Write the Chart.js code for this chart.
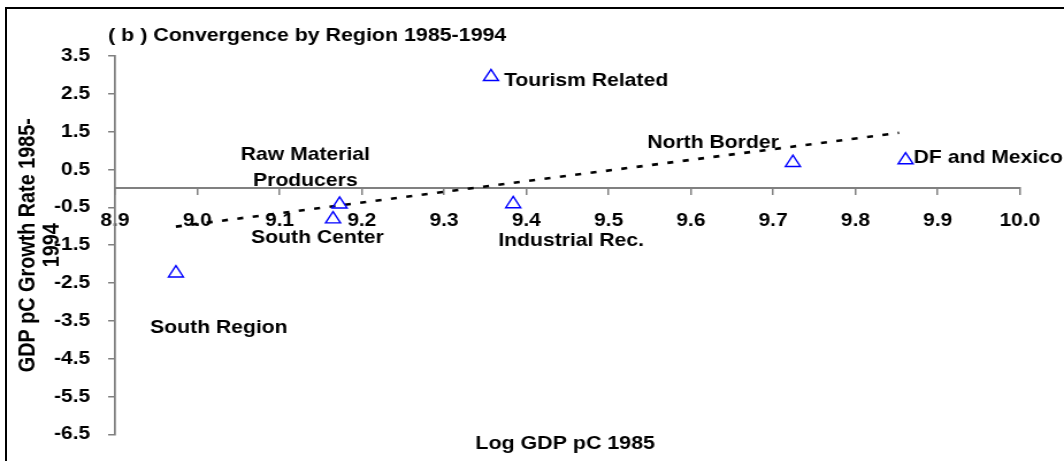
<!DOCTYPE html>
<html lang="en">
<head>
  <meta charset="UTF-8">
  <title>Convergence by Region 1985-1994</title>
  <script src="https://cdn.jsdelivr.net/npm/chart.js"></script>
  <style>
    body {
      margin: 0;
      background: #fff;
      overflow: hidden;
    }
    #wrap {
      position: relative;
      width: 1064px;
      height: 461px;
      overflow: hidden;
      background: #fff;
    }
    .frame {
      position: absolute;
      left: 5px;
      top: 7px;
      width: 1200px;
      height: 600px;
      border: 2px solid #000;
      pointer-events: none;
    }
  </style>
</head>
<body>
  <div id="wrap">
    <!-- canvas is drawn narrower and stretched, like the source picture -->
    <canvas id="chart" width="925" height="461" style="display:block;width:1064px;height:461px"></canvas>
    <div class="frame"></div>
  </div>

  <script>
    const regions = ['South Region', 'South Center', 'Raw Material Producers', 'Industrial Rec.',
                     'Tourism Related', 'North Border', 'DF and Mexico'];
    const regionLines = [['South Region'], ['South Center'], ['Raw Material', 'Producers'], ['Industrial Rec.'],
                         ['Tourism Related'], ['North Border'], ['DF and Mexico']];
    const logGdp85 = [8.974, 9.165, 9.173, 9.384, 9.357, 9.724, 9.861];
    const growth8594 = [-2.24, -0.81, -0.42, -0.41, 2.95, 0.68, 0.75];

    // dashed trend line, end points
    const trendX = [8.974, 9.853];
    const trendY = [-1.01, 1.47];

    const xTickValues = [8.9, 9.0, 9.1, 9.2, 9.3, 9.4, 9.5, 9.6, 9.7, 9.8, 9.9, 10.0];
    const yTickValues = [3.5, 2.5, 1.5, 0.5, -0.5, -1.5, -2.5, -3.5, -4.5, -5.5, -6.5];

    const chartTitle = '( b ) Convergence by Region 1985-1994';
    const xTitle = 'Log GDP pC 1985';
    const yTitle = ['GDP pC Growth Rate 1985-', '1994'];

    const FONT = '"Liberation Sans", Arial, sans-serif';

    // where each region name sits relative to its marker (canvas px)
    const labelPlace = {
      'South Region':           { dx: 37.4,  dy: 54.3,  align: 'center' },
      'South Center':           { dx: -13.5, dy: 18.5,  align: 'center' },
      'Raw Material Producers': { dx: -29.8, dy: -49.5, align: 'center' },
      'Industrial Rec.':        { dx: 50.4,  dy: 36.7,  align: 'center' },
      'Tourism Related':        { dx: 11.3,  dy: 4.2,   align: 'left' },
      'North Border':           { dx: -12.2, dy: -19.3, align: 'right' },
      'DF and Mexico':          { dx: 7,     dy: -2,    align: 'left' }
    };

    const annotate = {
      id: 'annotate',
      afterDatasetsDraw(chart) {
        const { ctx, chartArea, scales: { x, y } } = chart;
        ctx.save();
        ctx.fillStyle = '#000';
        ctx.textBaseline = 'middle';

        ctx.font = 'bold 18.4px ' + FONT;
        regions.forEach((name, i) => {
          const p = labelPlace[name];
          const px = x.getPixelForValue(logGdp85[i]) + p.dx;
          const py = y.getPixelForValue(growth8594[i]) + p.dy;
          ctx.textAlign = p.align;
          regionLines[i].forEach((line, k) => ctx.fillText(line, px, py + k * 26.5));
        });

        ctx.font = 'bold 18.6px ' + FONT;
        ctx.textAlign = 'left';
        ctx.fillText(chartTitle, chartArea.left - 6, 35.5);

        ctx.textAlign = 'center';
        ctx.fillText(xTitle, (chartArea.left + chartArea.right) / 2 - 2, 444);
        ctx.restore();
      }
    };

    const tickFont = { family: FONT, size: 18.2, weight: 'bold' };

    new Chart(document.getElementById('chart'), {
      type: 'scatter',
      data: {
        datasets: [
          {
            label: 'Regions',
            data: logGdp85.map((v, i) => ({ x: v, y: growth8594[i] })),
            pointStyle: 'triangle',
            radius: 7.5,
            borderColor: '#0000ff',
            backgroundColor: 'rgba(255,255,255,0)',
            borderWidth: 1.4
          },
          {
            label: 'Trend',
            type: 'line',
            data: trendX.map((v, i) => ({ x: v, y: trendY[i] })),
            borderColor: '#000',
            borderWidth: 2.6,
            borderDash: [5.2, 8.3],
            pointRadius: 0,
            fill: false
          }
        ]
      },
      options: {
        responsive: false,
        devicePixelRatio: 1,
        animation: false,
        layout: { padding: { top: 56, right: 38.3, bottom: 24, left: 0 } },
        plugins: {
          legend: { display: false },
          tooltip: { enabled: false }
        },
        scales: {
          x: {
            type: 'linear',
            position: { y: 0 },
            min: 8.9,
            max: 10.0,
            afterBuildTicks: s => { s.ticks = xTickValues.map(v => ({ value: v })); },
            grid: { drawOnChartArea: false, tickLength: 6, color: '#808080', lineWidth: 1.5 },
            border: { color: '#808080', width: 2 },
            ticks: {
              color: '#000', font: tickFont, padding: 15.5, maxRotation: 0, autoSkip: false,
              callback: v => Number(v).toFixed(1)
            }
          },
          y: {
            type: 'linear',
            position: 'left',
            min: -6.5,
            max: 3.5,
            afterBuildTicks: s => { s.ticks = yTickValues.map(v => ({ value: v })); },
            afterFit: s => { s.width = 100; },
            grid: { drawOnChartArea: false, tickLength: 6, color: '#808080', lineWidth: 1.5 },
            border: { color: '#808080', width: 1.75 },
            ticks: {
              color: '#000', font: tickFont, padding: 15.7, autoSkip: false,
              callback: v => Number(v).toFixed(1)
            },
            title: {
              display: true,
              text: yTitle,
              color: '#000',
              font: { family: FONT, size: 19.8, weight: 'bold', lineHeight: 1.075 },
              padding: { top: 13.5, bottom: 0 }
            }
          }
        }
      },
      plugins: [annotate]
    });
  </script>
</body>
</html>
